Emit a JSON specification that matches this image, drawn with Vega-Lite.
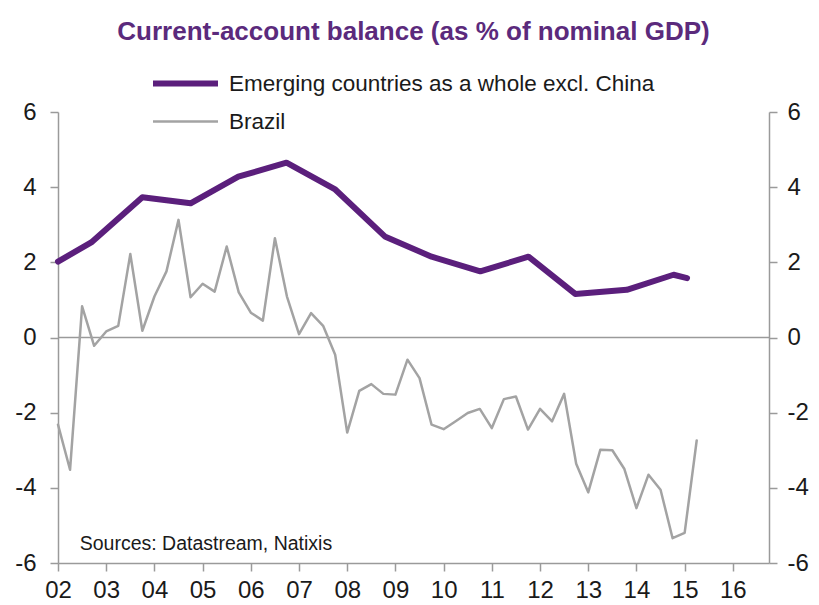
{
  "$schema": "https://vega.github.io/schema/vega-lite/v6.json",
  "width": 711,
  "height": 451,
  "autosize": {"type": "none"},
  "padding": {"left": 58, "top": 112, "right": 50, "bottom": 42},
  "background": "white",
  "title": {
    "text": "Current-account balance (as % of nominal GDP)",
    "color": "#5b2a7c",
    "font": "Liberation Sans",
    "fontSize": 26,
    "fontWeight": "bold",
    "anchor": "middle",
    "frame": "group",
    "offset": 19
  },
  "config": {
    "view": {"stroke": null},
    "axis": {
      "domainColor": "#9a9a9a",
      "domainWidth": 1.5,
      "tickColor": "#9a9a9a",
      "tickWidth": 1.5,
      "tickSize": 8,
      "labelFont": "Liberation Sans",
      "labelFontSize": 24,
      "labelColor": "#1a1a1a",
      "grid": false,
      "title": null
    }
  },
  "datasets": {
    "cab": [
      {"series": "Emerging countries as a whole excl. China", "t": 2002.0, "v": 2.02},
      {"series": "Emerging countries as a whole excl. China", "t": 2002.69, "v": 2.53},
      {"series": "Emerging countries as a whole excl. China", "t": 2003.75, "v": 3.73},
      {"series": "Emerging countries as a whole excl. China", "t": 2004.75, "v": 3.57},
      {"series": "Emerging countries as a whole excl. China", "t": 2005.74, "v": 4.28},
      {"series": "Emerging countries as a whole excl. China", "t": 2006.74, "v": 4.65},
      {"series": "Emerging countries as a whole excl. China", "t": 2007.74, "v": 3.95},
      {"series": "Emerging countries as a whole excl. China", "t": 2008.78, "v": 2.69},
      {"series": "Emerging countries as a whole excl. China", "t": 2009.75, "v": 2.15},
      {"series": "Emerging countries as a whole excl. China", "t": 2010.76, "v": 1.76},
      {"series": "Emerging countries as a whole excl. China", "t": 2011.76, "v": 2.15},
      {"series": "Emerging countries as a whole excl. China", "t": 2012.73, "v": 1.16},
      {"series": "Emerging countries as a whole excl. China", "t": 2013.8, "v": 1.27},
      {"series": "Emerging countries as a whole excl. China", "t": 2014.77, "v": 1.67},
      {"series": "Emerging countries as a whole excl. China", "t": 2015.05, "v": 1.58},
      {"series": "Brazil", "t": 2002.0, "v": -2.32},
      {"series": "Brazil", "t": 2002.25, "v": -3.52},
      {"series": "Brazil", "t": 2002.5, "v": 0.83},
      {"series": "Brazil", "t": 2002.75, "v": -0.22},
      {"series": "Brazil", "t": 2003.0, "v": 0.16},
      {"series": "Brazil", "t": 2003.25, "v": 0.31},
      {"series": "Brazil", "t": 2003.5, "v": 2.22},
      {"series": "Brazil", "t": 2003.75, "v": 0.18},
      {"series": "Brazil", "t": 2004.0, "v": 1.09},
      {"series": "Brazil", "t": 2004.25, "v": 1.76},
      {"series": "Brazil", "t": 2004.5, "v": 3.13},
      {"series": "Brazil", "t": 2004.75, "v": 1.07},
      {"series": "Brazil", "t": 2005.0, "v": 1.43},
      {"series": "Brazil", "t": 2005.25, "v": 1.22},
      {"series": "Brazil", "t": 2005.5, "v": 2.42},
      {"series": "Brazil", "t": 2005.75, "v": 1.2},
      {"series": "Brazil", "t": 2006.0, "v": 0.66},
      {"series": "Brazil", "t": 2006.25, "v": 0.45},
      {"series": "Brazil", "t": 2006.5, "v": 2.64},
      {"series": "Brazil", "t": 2006.75, "v": 1.09},
      {"series": "Brazil", "t": 2007.0, "v": 0.09},
      {"series": "Brazil", "t": 2007.25, "v": 0.65},
      {"series": "Brazil", "t": 2007.5, "v": 0.31},
      {"series": "Brazil", "t": 2007.75, "v": -0.46},
      {"series": "Brazil", "t": 2008.0, "v": -2.53},
      {"series": "Brazil", "t": 2008.25, "v": -1.42},
      {"series": "Brazil", "t": 2008.5, "v": -1.24},
      {"series": "Brazil", "t": 2008.75, "v": -1.5},
      {"series": "Brazil", "t": 2009.0, "v": -1.52},
      {"series": "Brazil", "t": 2009.25, "v": -0.59},
      {"series": "Brazil", "t": 2009.5, "v": -1.08},
      {"series": "Brazil", "t": 2009.75, "v": -2.32},
      {"series": "Brazil", "t": 2010.0, "v": -2.44},
      {"series": "Brazil", "t": 2010.25, "v": -2.23},
      {"series": "Brazil", "t": 2010.5, "v": -2.01},
      {"series": "Brazil", "t": 2010.75, "v": -1.9},
      {"series": "Brazil", "t": 2011.0, "v": -2.41},
      {"series": "Brazil", "t": 2011.25, "v": -1.64},
      {"series": "Brazil", "t": 2011.5, "v": -1.57},
      {"series": "Brazil", "t": 2011.75, "v": -2.45},
      {"series": "Brazil", "t": 2012.0, "v": -1.9},
      {"series": "Brazil", "t": 2012.25, "v": -2.23},
      {"series": "Brazil", "t": 2012.5, "v": -1.5},
      {"series": "Brazil", "t": 2012.75, "v": -3.36},
      {"series": "Brazil", "t": 2013.0, "v": -4.12},
      {"series": "Brazil", "t": 2013.25, "v": -2.99},
      {"series": "Brazil", "t": 2013.5, "v": -3.0},
      {"series": "Brazil", "t": 2013.75, "v": -3.5},
      {"series": "Brazil", "t": 2014.0, "v": -4.54},
      {"series": "Brazil", "t": 2014.25, "v": -3.65},
      {"series": "Brazil", "t": 2014.5, "v": -4.05},
      {"series": "Brazil", "t": 2014.75, "v": -5.34},
      {"series": "Brazil", "t": 2015.0, "v": -5.2},
      {"series": "Brazil", "t": 2015.25, "v": -2.74}
    ]
  },
  "layer": [
    {
      "data": {"values": [{"z": 0}]},
      "mark": {"type": "rule", "color": "#9a9a9a", "strokeWidth": 1.5},
      "encoding": {
        "y": {
          "field": "z",
          "type": "quantitative",
          "scale": {"domain": [-6, 6], "nice": false, "zero": false},
          "axis": {
            "orient": "left",
            "values": [-6, -4, -2, 0, 2, 4, 6],
            "labelPadding": 14,
            "labelExpr": "datum.value < 0 ? '-' + abs(datum.value) : '' + datum.value"
          }
        }
      }
    },
    {
      "data": {"name": "cab"},
      "mark": {"type": "line", "strokeJoin": "round", "strokeCap": "round"},
      "encoding": {
        "x": {
          "field": "t",
          "type": "quantitative",
          "scale": {"domain": [2002, 2016.75], "nice": false, "zero": false},
          "axis": {
            "values": [2002, 2003, 2004, 2005, 2006, 2007, 2008, 2009, 2010, 2011, 2012, 2013, 2014, 2015, 2016],
            "labelExpr": "substring(toString(datum.value), 2, 4)",
            "labelPadding": 7,
            "labelFlush": false,
            "labelOverlap": false
          }
        },
        "y": {
          "field": "v",
          "type": "quantitative",
          "scale": {"domain": [-6, 6], "nice": false, "zero": false},
          "axis": {
            "orient": "right",
            "values": [-6, -4, -2, 0, 2, 4, 6],
            "labelPadding": 10,
            "labelExpr": "datum.value < 0 ? '-' + abs(datum.value) : '' + datum.value"
          }
        },
        "color": {
          "field": "series",
          "type": "nominal",
          "sort": null,
          "scale": {
            "domain": ["Emerging countries as a whole excl. China", "Brazil"],
            "range": ["#5b1f7c", "#a3a3a3"]
          },
          "legend": {
            "orient": "none",
            "legendX": 108,
            "legendY": -48,
            "title": null,
            "symbolType": "M-2,0H2",
            "symbolSize": 1056,
            "labelFont": "Liberation Sans",
            "labelFontSize": 22.5,
            "labelColor": "#1a1a1a",
            "labelOffset": 24,
            "labelLimit": 700,
            "rowPadding": 8
          }
        },
        "strokeWidth": {
          "field": "series",
          "type": "nominal",
          "scale": {
            "domain": ["Emerging countries as a whole excl. China", "Brazil"],
            "range": [6, 2.5]
          },
          "legend": null
        },
        "order": {"field": "t", "type": "quantitative"}
      }
    },
    {
      "data": {"values": [{"label": "Sources: Datastream, Natixis"}]},
      "mark": {"type": "text", "align": "left", "baseline": "middle", "font": "Liberation Sans", "fontSize": 19.5, "color": "#1a1a1a"},
      "encoding": {
        "x": {"datum": 2002.45, "type": "quantitative"},
        "y": {"datum": -5.49, "type": "quantitative", "scale": {"domain": [-6, 6], "nice": false, "zero": false}, "axis": null},
        "text": {"field": "label"}
      }
    }
  ],
  "resolve": {"scale": {"y": "independent"}}
}
